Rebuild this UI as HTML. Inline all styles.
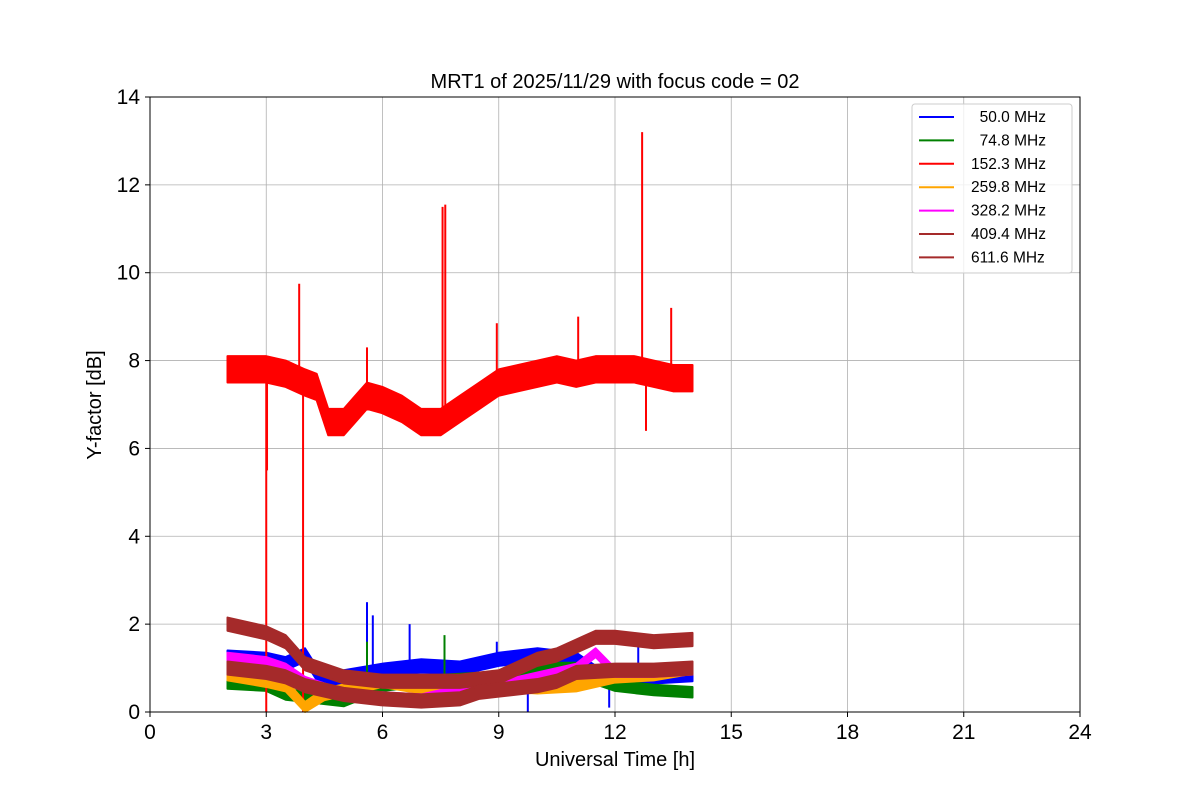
<!DOCTYPE html>
<html><head><meta charset="utf-8"><style>
body{margin:0;background:#fff;}
svg{font-family:"Liberation Sans","DejaVu Sans",sans-serif;}
</style></head><body>
<svg id="chart" width="1200" height="800" viewBox="0 0 1200 800">
<rect width="1200" height="800" fill="#fff"/>
<g id="grid"></g>
<g id="series"></g>
<rect x="150" y="97" width="930" height="615" fill="none" stroke="#000" stroke-width="1"/>
<g id="ticks"></g>
<text x="615" y="88" text-anchor="middle" font-size="20">MRT1 of 2025/11/29 with focus code = 02</text>
<text x="615" y="766" text-anchor="middle" font-size="20">Universal Time [h]</text>
<text transform="translate(101,405) rotate(-90)" text-anchor="middle" font-size="20">Y-factor [dB]</text>
<g id="legend"></g>
</svg>
<script>
const xTicks=[0,3,6,9,12,15,18,21,24];
const yTicks=[0,2,4,6,8,10,12,14];
const seriesNames=[" 50.0 MHz"," 74.8 MHz","152.3 MHz","259.8 MHz","328.2 MHz","409.4 MHz","611.6 MHz"];
const seriesColors=["blue","green","red","orange","magenta","brown","brown"];
const tBlue=[2,3,3.5,4,4.5,5,6,7,8,9,10,11,11.5,12,13,14];
const vBlue=[1.25,1.2,1.1,1.3,0.6,0.8,0.95,1.05,1.0,1.2,1.3,1.2,0.9,0.8,0.8,0.85];
const sBlue=[[5.6,2.5],[5.75,2.2],[6.7,2.0],[7.6,1.7],[8.95,1.6],[9.75,0],[11.85,0.1],[12.6,1.5]];
const tGreen=[2,3,3.5,4,5,6,7,8,9,10,11,11.5,12,13,14];
const vGreen=[0.65,0.6,0.4,0.35,0.25,0.6,0.7,0.75,0.8,1.0,1.0,0.75,0.6,0.5,0.45];
const sGreen=[[5.6,1.6],[7.6,1.75]];
const tRed=[2,2.5,3,3.5,4,4.3,4.6,5,5.3,5.6,6,6.5,7,7.5,8,8.5,9,9.5,10,10.5,11,11.5,12,12.5,13,13.5,14];
const vRed=[7.8,7.8,7.8,7.7,7.5,7.4,6.6,6.6,6.9,7.2,7.1,6.9,6.6,6.6,6.9,7.2,7.5,7.6,7.7,7.8,7.7,7.8,7.8,7.8,7.7,7.6,7.6];
const sRed=[[3.0,0],[3.02,5.5],[3.85,9.75],[3.95,0],[7.55,11.5],[7.62,11.55],[12.7,13.2],[13.45,9.2],[11.05,9.0],[8.95,8.85],[5.6,8.3],[12.8,6.4]];
const tOrange=[2,3,3.5,4,4.5,5,6,7,8,9,10,11,12,13,14];
const vOrange=[0.85,0.7,0.6,0.1,0.4,0.5,0.7,0.55,0.5,0.6,0.55,0.6,0.8,0.85,1.0];
const tMag=[2,3,3.5,4,4.5,5,6,7,8,9,10,11,11.5,12,13,14];
const vMag=[1.25,1.15,1.0,0.7,0.55,0.4,0.35,0.3,0.5,0.6,0.8,1.0,1.35,0.9,0.9,0.95];
const tBr1=[2,3,3.5,4,5,6,7,8,9,10,10.5,11,11.5,12,13,14];
const vBr1=[2.0,1.8,1.6,1.1,0.8,0.7,0.7,0.7,0.8,1.2,1.3,1.5,1.7,1.7,1.6,1.65];
const tBr2=[2,3,3.5,4,5,6,7,8,8.5,9,10,10.5,11,12,13,14];
const vBr2=[1.0,0.9,0.8,0.6,0.4,0.3,0.25,0.3,0.45,0.5,0.6,0.7,0.9,0.95,0.95,1.0];

const NS="http://www.w3.org/2000/svg";
const X0=150,X1=1080,Y0=712,Y1=97;
const xs=v=>X0+(v/24)*(X1-X0);
const ys=v=>Y0-(v/14)*(Y0-Y1);
function mk(tag,attrs,parent){const e=document.createElementNS(NS,tag);for(const k in attrs)e.setAttribute(k,attrs[k]);parent.appendChild(e);return e;}
const grid=document.getElementById('grid'),ticks=document.getElementById('ticks');
xTicks.forEach(t=>{
  const g=mk('line',{x1:xs(t),x2:xs(t),y1:Y1,y2:Y0,stroke:'#b0b0b0','stroke-width':0.8},grid);
  
  
  const tk=mk('line',{x1:xs(t),x2:xs(t),y1:Y0,y2:Y0+5,stroke:'#000'},ticks);
  
  
  const l=mk('text',{x:xs(t),y:Y0+27,'text-anchor':'middle','font-size':21},ticks);l.textContent=t;
  
  
});
yTicks.forEach(t=>{
  const g=mk('line',{x1:X0,x2:X1,y1:ys(t),y2:ys(t),stroke:'#b0b0b0','stroke-width':0.8},grid);
  
  
  const tk=mk('line',{x1:X0-5,x2:X0,y1:ys(t),y2:ys(t),stroke:'#000'},ticks);
  
  
  const l=mk('text',{x:X0-10,y:ys(t)+7,'text-anchor':'end','font-size':21},ticks);l.textContent=t;
  
  
});
const sg=document.getElementById('series');
function band(ts,vs,hw,color,name,spikes){
  let up=ts.map((t,i)=>xs(t)+','+ys(vs[i]+hw)),dn=ts.map((t,i)=>xs(t)+','+ys(Math.max(0,vs[i]-hw))).reverse();
  const p=mk('polygon',{points:up.concat(dn).join(' '),fill:color,stroke:color,'stroke-width':2,'stroke-linejoin':'round'},sg);
  
  
  (spikes||[]).forEach(s=>{
    let base=vs[0];for(let i=0;i<ts.length-1;i++)if(s[0]>=ts[i]&&s[0]<=ts[i+1]){base=vs[i]+(vs[i+1]-vs[i])*(s[0]-ts[i])/(ts[i+1]-ts[i]);}
    const l=mk('line',{x1:xs(s[0]),x2:xs(s[0]),y1:ys(base),y2:ys(s[1]),stroke:color,'stroke-width':2},sg);
    
    
  });
}
band(tBlue,vBlue,0.15,'blue','series-50mhz',sBlue);
band(tGreen,vGreen,0.12,'green','series-74mhz',sGreen);
band(tRed,vRed,0.3,'red','series-152mhz',sRed);
band(tOrange,vOrange,0.13,'orange','series-259mhz',[]);
band(tMag,vMag,0.1,'magenta','series-328mhz',[]);
band(tBr1,vBr1,0.15,'brown','series-409mhz',[]);
band(tBr2,vBr2,0.15,'brown','series-611mhz',[]);
const lg=document.getElementById('legend');
const box=mk('rect',{x:912,y:104,width:160,height:169,rx:3,fill:'#fff','fill-opacity':0.8,stroke:'#ccc'},lg);


seriesNames.forEach((n,i)=>{
  const y=117+i*23.4;
  const l=mk('line',{x1:919,x2:954,y1:y,y2:y,stroke:seriesColors[i],'stroke-width':2},lg);
  
  
  const t=mk('text',{x:971,y:y+5,'text-anchor':'start','font-size':15.5},lg);
  t.setAttributeNS('http://www.w3.org/XML/1998/namespace','xml:space','preserve');
  t.style.whiteSpace='pre';
  t.textContent=n.replace(/^ /,'\u2007');
  
  
});
</script>
</body></html>
